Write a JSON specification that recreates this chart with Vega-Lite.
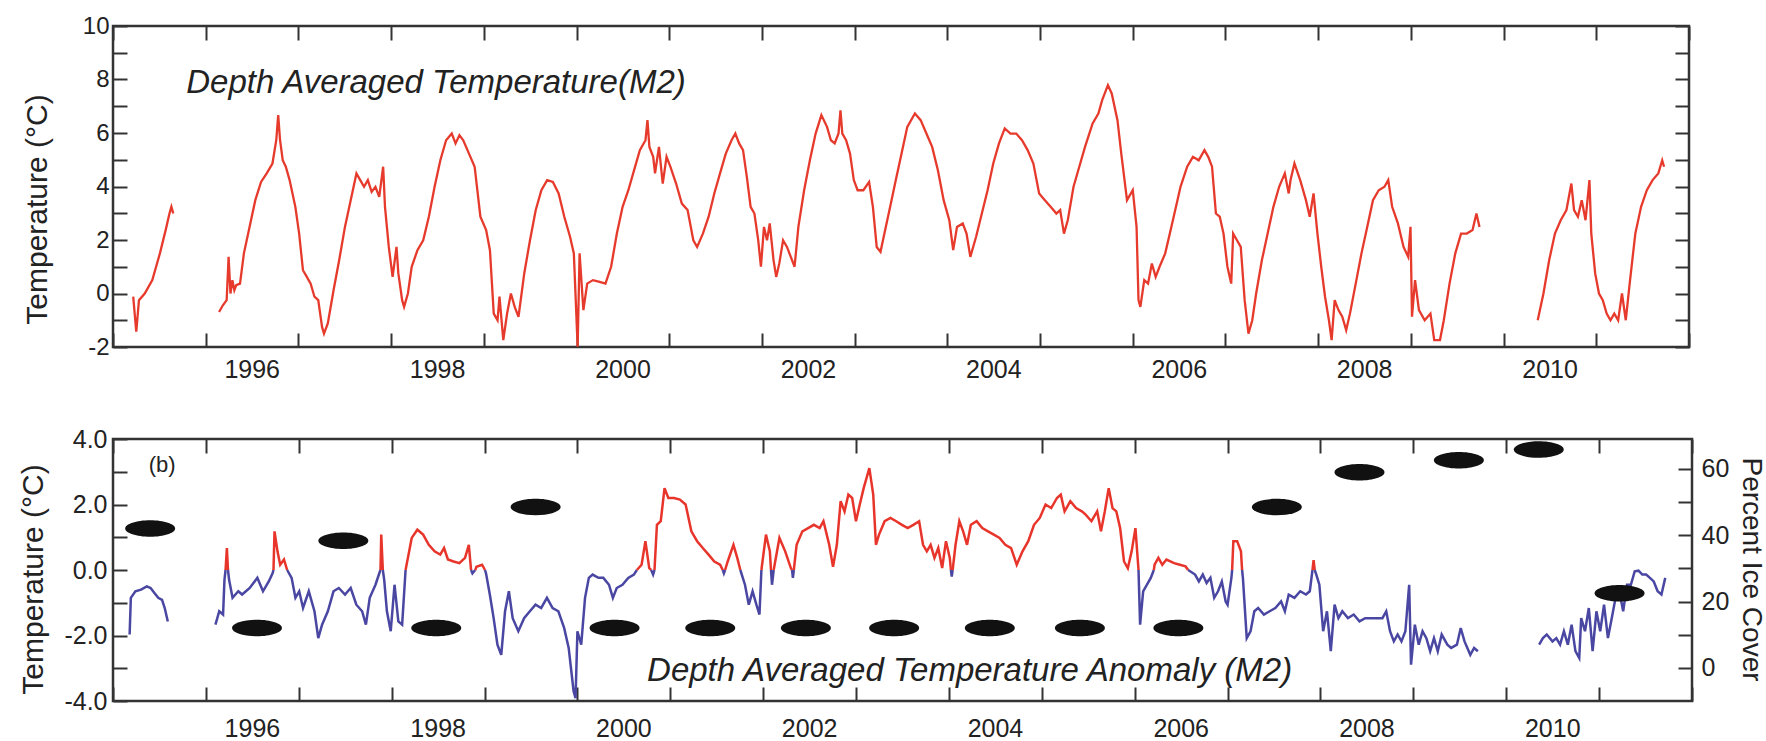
{
"$schema": "https://vega.github.io/schema/vega-lite/v6.json",
"background": "#ffffff",
"padding": {"left": 16, "top": 12, "right": 0, "bottom": 0},
"spacing": 41,
"config": {
  "font": "Liberation Sans",
  "view": {"stroke": "#333333", "strokeWidth": 2.5},
  "axis": {"grid": false, "domain": false, "tickColor": "#333333", "tickWidth": 2, "labelColor": "#222222", "titleColor": "#222222", "labelFont": "Liberation Sans", "titleFont": "Liberation Sans", "titleFontWeight": "normal", "labelFlush": false, "labelOverlap": false}
},
"datasets": {
"top": [
{"t":1995.218,"v":-0.12,"s":"a"},{"t":1995.251,"v":-1.43,"s":"a"},{"t":1995.280,"v":-0.25,"s":"a"},{"t":1995.342,"v":0.0,"s":"a"},{"t":1995.424,"v":0.50,"s":"a"},{"t":1995.506,"v":1.50,"s":"a"},{"t":1995.568,"v":2.37,"s":"a"},{"t":1995.609,"v":2.99,"s":"a"},{"t":1995.630,"v":3.24,"s":"a"},{"t":1995.650,"v":2.99,"s":"a"},
{"t":1996.144,"v":-0.69,"s":"b"},{"t":1996.185,"v":-0.44,"s":"b"},{"t":1996.226,"v":-0.25,"s":"b"},{"t":1996.247,"v":1.37,"s":"b"},{"t":1996.267,"v":0.0,"s":"b"},{"t":1996.288,"v":0.50,"s":"b"},{"t":1996.309,"v":0.12,"s":"b"},{"t":1996.329,"v":0.31,"s":"b"},{"t":1996.370,"v":0.37,"s":"b"},{"t":1996.412,"v":1.50,"s":"b"},{"t":1996.473,"v":2.49,"s":"b"},{"t":1996.535,"v":3.49,"s":"b"},{"t":1996.597,"v":4.17,"s":"b"},{"t":1996.658,"v":4.49,"s":"b"},{"t":1996.720,"v":4.86,"s":"b"},{"t":1996.761,"v":5.73,"s":"b"},{"t":1996.782,"v":6.67,"s":"b"},{"t":1996.802,"v":5.73,"s":"b"},{"t":1996.831,"v":4.98,"s":"b"},{"t":1996.864,"v":4.74,"s":"b"},{"t":1996.905,"v":4.24,"s":"b"},{"t":1996.967,"v":3.24,"s":"b"},{"t":1997.008,"v":2.24,"s":"b"},{"t":1997.049,"v":0.87,"s":"b"},{"t":1997.091,"v":0.62,"s":"b"},{"t":1997.132,"v":0.37,"s":"b"},{"t":1997.173,"v":-0.12,"s":"b"},{"t":1997.214,"v":-0.25,"s":"b"},{"t":1997.255,"v":-1.25,"s":"b"},{"t":1997.276,"v":-1.50,"s":"b"},{"t":1997.317,"v":-1.12,"s":"b"},{"t":1997.379,"v":0.12,"s":"b"},{"t":1997.440,"v":1.25,"s":"b"},{"t":1997.502,"v":2.49,"s":"b"},{"t":1997.564,"v":3.49,"s":"b"},{"t":1997.626,"v":4.49,"s":"b"},{"t":1997.667,"v":4.24,"s":"b"},{"t":1997.708,"v":3.99,"s":"b"},{"t":1997.749,"v":4.24,"s":"b"},{"t":1997.790,"v":3.80,"s":"b"},{"t":1997.831,"v":3.99,"s":"b"},{"t":1997.872,"v":3.61,"s":"b"},{"t":1997.914,"v":4.74,"s":"b"},{"t":1997.934,"v":3.24,"s":"b"},{"t":1997.975,"v":1.74,"s":"b"},{"t":1998.016,"v":0.62,"s":"b"},{"t":1998.058,"v":1.74,"s":"b"},{"t":1998.078,"v":0.75,"s":"b"},{"t":1998.119,"v":-0.25,"s":"b"},{"t":1998.140,"v":-0.50,"s":"b"},{"t":1998.181,"v":0.0,"s":"b"},{"t":1998.222,"v":1.0,"s":"b"},{"t":1998.284,"v":1.62,"s":"b"},{"t":1998.346,"v":1.99,"s":"b"},{"t":1998.407,"v":2.87,"s":"b"},{"t":1998.469,"v":3.99,"s":"b"},{"t":1998.531,"v":4.98,"s":"b"},{"t":1998.593,"v":5.73,"s":"b"},{"t":1998.654,"v":5.98,"s":"b"},{"t":1998.695,"v":5.61,"s":"b"},{"t":1998.737,"v":5.92,"s":"b"},{"t":1998.778,"v":5.73,"s":"b"},{"t":1998.840,"v":5.23,"s":"b"},{"t":1998.901,"v":4.74,"s":"b"},{"t":1998.963,"v":2.87,"s":"b"},{"t":1999.025,"v":2.37,"s":"b"},{"t":1999.066,"v":1.62,"s":"b"},{"t":1999.107,"v":-0.75,"s":"b"},{"t":1999.148,"v":-1.00,"s":"b"},{"t":1999.169,"v":-0.12,"s":"b"},{"t":1999.210,"v":-1.74,"s":"b"},{"t":1999.251,"v":-0.75,"s":"b"},{"t":1999.292,"v":0.0,"s":"b"},{"t":1999.333,"v":-0.50,"s":"b"},{"t":1999.374,"v":-0.87,"s":"b"},{"t":1999.436,"v":0.75,"s":"b"},{"t":1999.498,"v":1.99,"s":"b"},{"t":1999.560,"v":3.12,"s":"b"},{"t":1999.621,"v":3.86,"s":"b"},{"t":1999.683,"v":4.24,"s":"b"},{"t":1999.745,"v":4.17,"s":"b"},{"t":1999.807,"v":3.74,"s":"b"},{"t":1999.868,"v":2.87,"s":"b"},{"t":1999.930,"v":2.12,"s":"b"},{"t":1999.971,"v":1.50,"s":"b"},{"t":2000.012,"v":-1.99,"s":"b"},{"t":2000.033,"v":1.50,"s":"b"},{"t":2000.074,"v":-0.62,"s":"b"},{"t":2000.115,"v":0.37,"s":"b"},{"t":2000.177,"v":0.50,"s":"b"},{"t":2000.239,"v":0.44,"s":"b"},
{"t":2000.312,"v":0.37,"s":"b"},{"t":2000.373,"v":1.0,"s":"b"},{"t":2000.435,"v":2.24,"s":"b"},{"t":2000.497,"v":3.24,"s":"b"},{"t":2000.559,"v":3.86,"s":"b"},{"t":2000.621,"v":4.61,"s":"b"},{"t":2000.683,"v":5.36,"s":"b"},{"t":2000.744,"v":5.73,"s":"b"},{"t":2000.765,"v":6.48,"s":"b"},{"t":2000.786,"v":5.48,"s":"b"},{"t":2000.827,"v":5.11,"s":"b"},{"t":2000.847,"v":4.49,"s":"b"},{"t":2000.889,"v":5.48,"s":"b"},{"t":2000.930,"v":4.11,"s":"b"},{"t":2000.971,"v":5.11,"s":"b"},{"t":2001.012,"v":4.74,"s":"b"},{"t":2001.074,"v":4.11,"s":"b"},{"t":2001.136,"v":3.36,"s":"b"},{"t":2001.198,"v":3.12,"s":"b"},{"t":2001.260,"v":1.99,"s":"b"},{"t":2001.301,"v":1.74,"s":"b"},{"t":2001.363,"v":2.24,"s":"b"},{"t":2001.425,"v":2.87,"s":"b"},{"t":2001.486,"v":3.74,"s":"b"},{"t":2001.548,"v":4.49,"s":"b"},{"t":2001.610,"v":5.23,"s":"b"},{"t":2001.672,"v":5.73,"s":"b"},{"t":2001.713,"v":5.98,"s":"b"},{"t":2001.754,"v":5.61,"s":"b"},{"t":2001.796,"v":5.36,"s":"b"},{"t":2001.837,"v":4.36,"s":"b"},{"t":2001.878,"v":3.24,"s":"b"},{"t":2001.919,"v":2.99,"s":"b"},{"t":2001.960,"v":1.99,"s":"b"},{"t":2001.989,"v":1.0,"s":"b"},{"t":2002.022,"v":2.49,"s":"b"},{"t":2002.055,"v":1.99,"s":"b"},{"t":2002.084,"v":2.62,"s":"b"},{"t":2002.125,"v":1.25,"s":"b"},{"t":2002.154,"v":0.62,"s":"b"},{"t":2002.187,"v":1.12,"s":"b"},{"t":2002.228,"v":1.99,"s":"b"},{"t":2002.270,"v":1.74,"s":"b"},{"t":2002.311,"v":1.37,"s":"b"},{"t":2002.352,"v":1.0,"s":"b"},{"t":2002.393,"v":2.49,"s":"b"},{"t":2002.455,"v":3.86,"s":"b"},{"t":2002.517,"v":4.98,"s":"b"},{"t":2002.579,"v":5.98,"s":"b"},{"t":2002.641,"v":6.67,"s":"b"},{"t":2002.702,"v":6.23,"s":"b"},{"t":2002.744,"v":5.73,"s":"b"},{"t":2002.785,"v":5.61,"s":"b"},{"t":2002.826,"v":5.98,"s":"b"},{"t":2002.847,"v":6.85,"s":"b"},{"t":2002.867,"v":5.98,"s":"b"},{"t":2002.908,"v":5.73,"s":"b"},{"t":2002.950,"v":5.23,"s":"b"},{"t":2002.991,"v":4.24,"s":"b"},{"t":2003.032,"v":3.86,"s":"b"},{"t":2003.094,"v":3.86,"s":"b"},{"t":2003.156,"v":4.17,"s":"b"},{"t":2003.197,"v":3.24,"s":"b"},{"t":2003.238,"v":1.74,"s":"b"},{"t":2003.279,"v":1.56,"s":"b"},{"t":2003.321,"v":2.24,"s":"b"},{"t":2003.383,"v":3.24,"s":"b"},{"t":2003.444,"v":4.24,"s":"b"},{"t":2003.506,"v":5.23,"s":"b"},{"t":2003.568,"v":6.23,"s":"b"},{"t":2003.650,"v":6.73,"s":"b"},{"t":2003.712,"v":6.48,"s":"b"},{"t":2003.774,"v":5.98,"s":"b"},{"t":2003.836,"v":5.48,"s":"b"},{"t":2003.898,"v":4.61,"s":"b"},{"t":2003.960,"v":3.49,"s":"b"},{"t":2004.021,"v":2.74,"s":"b"},{"t":2004.063,"v":1.62,"s":"b"},{"t":2004.104,"v":2.49,"s":"b"},{"t":2004.166,"v":2.62,"s":"b"},{"t":2004.207,"v":2.24,"s":"b"},{"t":2004.248,"v":1.37,"s":"b"},{"t":2004.310,"v":2.12,"s":"b"},{"t":2004.372,"v":2.99,"s":"b"},{"t":2004.434,"v":3.86,"s":"b"},{"t":2004.495,"v":4.86,"s":"b"},{"t":2004.557,"v":5.61,"s":"b"},{"t":2004.619,"v":6.17,"s":"b"},{"t":2004.681,"v":5.98,"s":"b"},{"t":2004.743,"v":5.98,"s":"b"},{"t":2004.805,"v":5.73,"s":"b"},{"t":2004.866,"v":5.36,"s":"b"},{"t":2004.928,"v":4.86,"s":"b"},{"t":2004.990,"v":3.74,"s":"b"},{"t":2005.052,"v":3.49,"s":"b"},{"t":2005.114,"v":3.24,"s":"b"},{"t":2005.176,"v":2.99,"s":"b"},{"t":2005.217,"v":3.12,"s":"b"},{"t":2005.258,"v":2.24,"s":"b"},{"t":2005.299,"v":2.74,"s":"b"},{"t":2005.361,"v":3.99,"s":"b"},{"t":2005.423,"v":4.74,"s":"b"},{"t":2005.485,"v":5.48,"s":"b"},{"t":2005.567,"v":6.36,"s":"b"},{"t":2005.629,"v":6.73,"s":"b"},{"t":2005.670,"v":7.23,"s":"b"},{"t":2005.732,"v":7.79,"s":"b"},{"t":2005.773,"v":7.48,"s":"b"},{"t":2005.835,"v":6.48,"s":"b"},{"t":2005.876,"v":5.23,"s":"b"},{"t":2005.938,"v":3.49,"s":"b"},{"t":2006.000,"v":3.86,"s":"b"},{"t":2006.041,"v":2.49,"s":"b"},{"t":2006.062,"v":-0.25,"s":"b"},{"t":2006.082,"v":-0.50,"s":"b"},{"t":2006.124,"v":0.50,"s":"b"},{"t":2006.165,"v":0.37,"s":"b"},{"t":2006.206,"v":1.12,"s":"b"},{"t":2006.247,"v":0.62,"s":"b"},{"t":2006.289,"v":1.0,"s":"b"},{"t":2006.350,"v":1.50,"s":"b"},{"t":2006.433,"v":2.74,"s":"b"},{"t":2006.515,"v":3.99,"s":"b"},
{"t":2006.587,"v":4.74,"s":"b"},{"t":2006.649,"v":5.11,"s":"b"},{"t":2006.711,"v":4.98,"s":"b"},{"t":2006.773,"v":5.36,"s":"b"},{"t":2006.814,"v":5.11,"s":"b"},{"t":2006.855,"v":4.74,"s":"b"},{"t":2006.897,"v":2.99,"s":"b"},{"t":2006.938,"v":2.87,"s":"b"},{"t":2006.979,"v":2.24,"s":"b"},{"t":2007.021,"v":1.0,"s":"b"},{"t":2007.062,"v":0.37,"s":"b"},{"t":2007.083,"v":2.24,"s":"b"},{"t":2007.124,"v":1.99,"s":"b"},{"t":2007.165,"v":1.74,"s":"b"},{"t":2007.207,"v":-0.25,"s":"b"},{"t":2007.248,"v":-1.50,"s":"b"},{"t":2007.289,"v":-1.0,"s":"b"},{"t":2007.331,"v":0.0,"s":"b"},{"t":2007.393,"v":1.25,"s":"b"},{"t":2007.455,"v":2.24,"s":"b"},{"t":2007.517,"v":3.24,"s":"b"},{"t":2007.579,"v":3.99,"s":"b"},{"t":2007.640,"v":4.49,"s":"b"},{"t":2007.682,"v":3.74,"s":"b"},{"t":2007.702,"v":4.24,"s":"b"},{"t":2007.744,"v":4.86,"s":"b"},{"t":2007.806,"v":4.24,"s":"b"},{"t":2007.868,"v":3.49,"s":"b"},{"t":2007.909,"v":2.87,"s":"b"},{"t":2007.950,"v":3.74,"s":"b"},{"t":2007.992,"v":2.24,"s":"b"},{"t":2008.033,"v":1.0,"s":"b"},{"t":2008.074,"v":-0.12,"s":"b"},{"t":2008.116,"v":-1.0,"s":"b"},{"t":2008.145,"v":-1.74,"s":"b"},{"t":2008.178,"v":-0.25,"s":"b"},{"t":2008.219,"v":-0.62,"s":"b"},{"t":2008.260,"v":-0.87,"s":"b"},{"t":2008.302,"v":-1.37,"s":"b"},{"t":2008.343,"v":-0.75,"s":"b"},{"t":2008.405,"v":0.37,"s":"b"},{"t":2008.467,"v":1.50,"s":"b"},{"t":2008.529,"v":2.49,"s":"b"},{"t":2008.591,"v":3.49,"s":"b"},{"t":2008.653,"v":3.86,"s":"b"},{"t":2008.715,"v":3.99,"s":"b"},{"t":2008.756,"v":4.24,"s":"b"},{"t":2008.798,"v":3.24,"s":"b"},{"t":2008.860,"v":2.62,"s":"b"},{"t":2008.921,"v":1.74,"s":"b"},{"t":2008.971,"v":1.37,"s":"b"},{"t":2008.996,"v":2.49,"s":"b"},{"t":2009.012,"v":-0.87,"s":"b"},{"t":2009.045,"v":0.50,"s":"b"},{"t":2009.087,"v":-0.62,"s":"b"},{"t":2009.149,"v":-1.0,"s":"b"},{"t":2009.211,"v":-0.75,"s":"b"},{"t":2009.252,"v":-1.74,"s":"b"},{"t":2009.314,"v":-1.74,"s":"b"},{"t":2009.355,"v":-1.0,"s":"b"},{"t":2009.417,"v":0.37,"s":"b"},{"t":2009.479,"v":1.50,"s":"b"},{"t":2009.541,"v":2.24,"s":"b"},{"t":2009.603,"v":2.24,"s":"b"},{"t":2009.665,"v":2.37,"s":"b"},{"t":2009.707,"v":2.99,"s":"b"},{"t":2009.740,"v":2.49,"s":"b"},
{"t":2010.368,"v":-1.0,"s":"c"},{"t":2010.430,"v":0.0,"s":"c"},{"t":2010.492,"v":1.25,"s":"c"},{"t":2010.554,"v":2.24,"s":"c"},{"t":2010.616,"v":2.74,"s":"c"},{"t":2010.678,"v":3.12,"s":"c"},{"t":2010.731,"v":4.11,"s":"c"},{"t":2010.760,"v":3.12,"s":"c"},{"t":2010.802,"v":2.87,"s":"c"},{"t":2010.843,"v":3.49,"s":"c"},{"t":2010.884,"v":2.74,"s":"c"},{"t":2010.926,"v":4.24,"s":"c"},{"t":2010.946,"v":2.24,"s":"c"},{"t":2010.988,"v":0.75,"s":"c"},{"t":2011.029,"v":0.0,"s":"c"},{"t":2011.070,"v":-0.25,"s":"c"},{"t":2011.112,"v":-0.75,"s":"c"},{"t":2011.153,"v":-1.0,"s":"c"},{"t":2011.194,"v":-0.75,"s":"c"},{"t":2011.236,"v":-1.0,"s":"c"},{"t":2011.277,"v":0.0,"s":"c"},{"t":2011.318,"v":-1.0,"s":"c"},{"t":2011.360,"v":0.37,"s":"c"},{"t":2011.421,"v":2.24,"s":"c"},{"t":2011.483,"v":3.24,"s":"c"},{"t":2011.545,"v":3.86,"s":"c"},{"t":2011.607,"v":4.24,"s":"c"},{"t":2011.669,"v":4.49,"s":"c"},{"t":2011.711,"v":4.98,"s":"c"},{"t":2011.731,"v":4.74,"s":"c"}
],
"anom": [
{"t":1995.179,"v":-1.97,"s":"n1","c":"n"},{"t":1995.192,"v":-0.85,"s":"n1","c":"n"},{"t":1995.241,"v":-0.65,"s":"n1","c":"n"},{"t":1995.302,"v":-0.60,"s":"n1","c":"n"},{"t":1995.364,"v":-0.50,"s":"n1","c":"n"},{"t":1995.405,"v":-0.55,"s":"n1","c":"n"},{"t":1995.446,"v":-0.70,"s":"n1","c":"n"},{"t":1995.487,"v":-0.85,"s":"n1","c":"n"},{"t":1995.528,"v":-0.91,"s":"n1","c":"n"},{"t":1995.557,"v":-1.16,"s":"n1","c":"n"},{"t":1995.590,"v":-1.57,"s":"n1","c":"n"},
{"t":1996.103,"v":-1.67,"s":"n2","c":"n"},{"t":1996.144,"v":-1.26,"s":"n2","c":"n"},{"t":1996.185,"v":-1.36,"s":"n2","c":"n"},{"t":1996.200,"v":-0.30,"s":"n2","c":"n"},{"t":1996.212,"v":0,"s":"n2","c":"n"},
{"t":1996.212,"v":0,"s":"p1","c":"p"},{"t":1996.226,"v":0.67,"s":"p1","c":"p"},{"t":1996.238,"v":0,"s":"p1","c":"p"},
{"t":1996.238,"v":0,"s":"n3","c":"n"},{"t":1996.250,"v":-0.30,"s":"n3","c":"n"},{"t":1996.287,"v":-0.85,"s":"n3","c":"n"},{"t":1996.349,"v":-0.65,"s":"n3","c":"n"},{"t":1996.390,"v":-0.75,"s":"n3","c":"n"},{"t":1996.472,"v":-0.55,"s":"n3","c":"n"},{"t":1996.554,"v":-0.24,"s":"n3","c":"n"},{"t":1996.615,"v":-0.65,"s":"n3","c":"n"},{"t":1996.677,"v":-0.35,"s":"n3","c":"n"},{"t":1996.718,"v":-0.10,"s":"n3","c":"n"},{"t":1996.728,"v":0,"s":"n3","c":"n"},
{"t":1996.728,"v":0,"s":"p2","c":"p"},{"t":1996.739,"v":1.18,"s":"p2","c":"p"},{"t":1996.771,"v":0.57,"s":"p2","c":"p"},{"t":1996.800,"v":0.16,"s":"p2","c":"p"},{"t":1996.841,"v":0.32,"s":"p2","c":"p"},{"t":1996.875,"v":0,"s":"p2","c":"p"},
{"t":1996.875,"v":0,"s":"n4","c":"n"},{"t":1996.923,"v":-0.24,"s":"n4","c":"n"},{"t":1996.964,"v":-0.85,"s":"n4","c":"n"},{"t":1997.005,"v":-0.65,"s":"n4","c":"n"},{"t":1997.046,"v":-1.16,"s":"n4","c":"n"},{"t":1997.108,"v":-0.65,"s":"n4","c":"n"},{"t":1997.169,"v":-1.26,"s":"n4","c":"n"},{"t":1997.210,"v":-2.08,"s":"n4","c":"n"},{"t":1997.251,"v":-1.67,"s":"n4","c":"n"},{"t":1997.313,"v":-1.26,"s":"n4","c":"n"},{"t":1997.374,"v":-0.65,"s":"n4","c":"n"},{"t":1997.431,"v":-0.55,"s":"n4","c":"n"},{"t":1997.498,"v":-0.75,"s":"n4","c":"n"},{"t":1997.559,"v":-0.55,"s":"n4","c":"n"},{"t":1997.620,"v":-1.06,"s":"n4","c":"n"},{"t":1997.682,"v":-1.26,"s":"n4","c":"n"},{"t":1997.723,"v":-1.67,"s":"n4","c":"n"},{"t":1997.764,"v":-0.85,"s":"n4","c":"n"},{"t":1997.826,"v":-0.45,"s":"n4","c":"n"},{"t":1997.867,"v":-0.10,"s":"n4","c":"n"},{"t":1997.880,"v":0,"s":"n4","c":"n"},
{"t":1997.880,"v":0,"s":"p3","c":"p"},{"t":1997.888,"v":1.08,"s":"p3","c":"p"},{"t":1997.905,"v":0,"s":"p3","c":"p"},
{"t":1997.905,"v":0,"s":"n5","c":"n"},{"t":1997.920,"v":-0.30,"s":"n5","c":"n"},{"t":1997.949,"v":-1.26,"s":"n5","c":"n"},{"t":1997.990,"v":-1.87,"s":"n5","c":"n"},{"t":1998.031,"v":-0.45,"s":"n5","c":"n"},{"t":1998.072,"v":-1.57,"s":"n5","c":"n"},{"t":1998.113,"v":-1.67,"s":"n5","c":"n"},{"t":1998.150,"v":0,"s":"n5","c":"n"},
{"t":1998.150,"v":0,"s":"p4","c":"p"},{"t":1998.216,"v":0.98,"s":"p4","c":"p"},{"t":1998.277,"v":1.23,"s":"p4","c":"p"},{"t":1998.339,"v":1.08,"s":"p4","c":"p"},{"t":1998.400,"v":0.77,"s":"p4","c":"p"},{"t":1998.462,"v":0.57,"s":"p4","c":"p"},{"t":1998.523,"v":0.47,"s":"p4","c":"p"},{"t":1998.564,"v":0.67,"s":"p4","c":"p"},{"t":1998.606,"v":0.32,"s":"p4","c":"p"},{"t":1998.667,"v":0.26,"s":"p4","c":"p"},{"t":1998.729,"v":0.21,"s":"p4","c":"p"},{"t":1998.790,"v":0.37,"s":"p4","c":"p"},{"t":1998.831,"v":0.77,"s":"p4","c":"p"},{"t":1998.855,"v":0,"s":"p4","c":"p"},
{"t":1998.855,"v":0,"s":"n6","c":"n"},{"t":1998.870,"v":-0.10,"s":"n6","c":"n"},{"t":1998.900,"v":0,"s":"n6","c":"n"},
{"t":1998.900,"v":0,"s":"p5","c":"p"},{"t":1998.913,"v":0.10,"s":"p5","c":"p"},{"t":1998.974,"v":0.16,"s":"p5","c":"p"},{"t":1999.005,"v":0,"s":"p5","c":"p"},
{"t":1999.005,"v":0,"s":"n7","c":"n"},{"t":1999.016,"v":-0.10,"s":"n7","c":"n"},{"t":1999.057,"v":-0.75,"s":"n7","c":"n"},{"t":1999.098,"v":-1.47,"s":"n7","c":"n"},{"t":1999.139,"v":-2.28,"s":"n7","c":"n"},{"t":1999.180,"v":-2.59,"s":"n7","c":"n"},{"t":1999.221,"v":-1.26,"s":"n7","c":"n"},{"t":1999.262,"v":-0.65,"s":"n7","c":"n"},{"t":1999.303,"v":-1.47,"s":"n7","c":"n"},{"t":1999.364,"v":-1.87,"s":"n7","c":"n"},{"t":1999.426,"v":-1.47,"s":"n7","c":"n"},{"t":1999.488,"v":-1.26,"s":"n7","c":"n"},{"t":1999.549,"v":-1.06,"s":"n7","c":"n"},{"t":1999.610,"v":-1.16,"s":"n7","c":"n"},{"t":1999.672,"v":-0.85,"s":"n7","c":"n"},{"t":1999.733,"v":-1.16,"s":"n7","c":"n"},{"t":1999.795,"v":-1.26,"s":"n7","c":"n"},{"t":1999.857,"v":-1.77,"s":"n7","c":"n"},{"t":1999.906,"v":-2.38,"s":"n7","c":"n"},{"t":1999.959,"v":-3.70,"s":"n7","c":"n"},{"t":1999.980,"v":-3.91,"s":"n7","c":"n"},{"t":2000.000,"v":-1.87,"s":"n7","c":"n"},{"t":2000.041,"v":-2.28,"s":"n7","c":"n"},{"t":2000.082,"v":-0.85,"s":"n7","c":"n"},{"t":2000.123,"v":-0.24,"s":"n7","c":"n"},{"t":2000.164,"v":-0.14,"s":"n7","c":"n"},{"t":2000.226,"v":-0.24,"s":"n7","c":"n"},{"t":2000.279,"v":-0.24,"s":"n7","c":"n"},{"t":2000.340,"v":-0.45,"s":"n7","c":"n"},{"t":2000.382,"v":-0.85,"s":"n7","c":"n"},{"t":2000.423,"v":-0.55,"s":"n7","c":"n"},{"t":2000.485,"v":-0.45,"s":"n7","c":"n"},{"t":2000.547,"v":-0.24,"s":"n7","c":"n"},{"t":2000.608,"v":-0.14,"s":"n7","c":"n"},{"t":2000.640,"v":0,"s":"n7","c":"n"},
{"t":2000.640,"v":0,"s":"p6","c":"p"},{"t":2000.691,"v":0.16,"s":"p6","c":"p"},{"t":2000.732,"v":0.88,"s":"p6","c":"p"},{"t":2000.773,"v":0.06,"s":"p6","c":"p"},{"t":2000.794,"v":0,"s":"p6","c":"p"},
{"t":2000.794,"v":0,"s":"n8","c":"n"},{"t":2000.815,"v":-0.14,"s":"n8","c":"n"},{"t":2000.830,"v":0,"s":"n8","c":"n"},
{"t":2000.830,"v":0,"s":"p7","c":"p"},{"t":2000.856,"v":1.38,"s":"p7","c":"p"},{"t":2000.897,"v":1.49,"s":"p7","c":"p"},{"t":2000.938,"v":2.50,"s":"p7","c":"p"},{"t":2000.979,"v":2.20,"s":"p7","c":"p"},{"t":2001.041,"v":2.20,"s":"p7","c":"p"},{"t":2001.103,"v":2.15,"s":"p7","c":"p"},{"t":2001.165,"v":2.00,"s":"p7","c":"p"},{"t":2001.227,"v":1.18,"s":"p7","c":"p"},{"t":2001.289,"v":0.88,"s":"p7","c":"p"},{"t":2001.350,"v":0.67,"s":"p7","c":"p"},{"t":2001.412,"v":0.47,"s":"p7","c":"p"},{"t":2001.474,"v":0.26,"s":"p7","c":"p"},{"t":2001.536,"v":0.16,"s":"p7","c":"p"},{"t":2001.565,"v":0,"s":"p7","c":"p"},
{"t":2001.565,"v":0,"s":"n9","c":"n"},{"t":2001.577,"v":-0.10,"s":"n9","c":"n"},{"t":2001.590,"v":0,"s":"n9","c":"n"},
{"t":2001.590,"v":0,"s":"p8","c":"p"},{"t":2001.618,"v":0.26,"s":"p8","c":"p"},{"t":2001.680,"v":0.77,"s":"p8","c":"p"},{"t":2001.721,"v":0.37,"s":"p8","c":"p"},{"t":2001.754,"v":0,"s":"p8","c":"p"},
{"t":2001.754,"v":0,"s":"n10","c":"n"},{"t":2001.804,"v":-0.45,"s":"n10","c":"n"},{"t":2001.845,"v":-1.06,"s":"n10","c":"n"},{"t":2001.886,"v":-0.65,"s":"n10","c":"n"},{"t":2001.927,"v":-1.06,"s":"n10","c":"n"},{"t":2001.960,"v":-1.36,"s":"n10","c":"n"},{"t":2001.981,"v":0,"s":"n10","c":"n"},
{"t":2001.981,"v":0,"s":"p9","c":"p"},{"t":2002.030,"v":1.08,"s":"p9","c":"p"},{"t":2002.072,"v":0.57,"s":"p9","c":"p"},{"t":2002.084,"v":0,"s":"p9","c":"p"},
{"t":2002.084,"v":0,"s":"n11","c":"n"},{"t":2002.095,"v":-0.45,"s":"n11","c":"n"},{"t":2002.113,"v":0,"s":"n11","c":"n"},
{"t":2002.113,"v":0,"s":"p10","c":"p"},{"t":2002.175,"v":0.98,"s":"p10","c":"p"},{"t":2002.237,"v":0.57,"s":"p10","c":"p"},{"t":2002.298,"v":0.06,"s":"p10","c":"p"},{"t":2002.311,"v":0,"s":"p10","c":"p"},
{"t":2002.311,"v":0,"s":"n12","c":"n"},{"t":2002.320,"v":-0.24,"s":"n12","c":"n"},{"t":2002.330,"v":0,"s":"n12","c":"n"},
{"t":2002.330,"v":0,"s":"p11","c":"p"},{"t":2002.360,"v":0.77,"s":"p11","c":"p"},{"t":2002.422,"v":1.18,"s":"p11","c":"p"},{"t":2002.484,"v":1.28,"s":"p11","c":"p"},{"t":2002.546,"v":1.38,"s":"p11","c":"p"},{"t":2002.608,"v":1.28,"s":"p11","c":"p"},{"t":2002.649,"v":1.49,"s":"p11","c":"p"},{"t":2002.711,"v":0.77,"s":"p11","c":"p"},{"t":2002.752,"v":0.10,"s":"p11","c":"p"},{"t":2002.793,"v":0.77,"s":"p11","c":"p"},{"t":2002.834,"v":2.10,"s":"p11","c":"p"},{"t":2002.876,"v":1.79,"s":"p11","c":"p"},{"t":2002.917,"v":2.30,"s":"p11","c":"p"},{"t":2002.958,"v":2.20,"s":"p11","c":"p"},{"t":2002.999,"v":1.49,"s":"p11","c":"p"},{"t":2003.040,"v":2.00,"s":"p11","c":"p"},{"t":2003.082,"v":2.50,"s":"p11","c":"p"},{"t":2003.143,"v":3.11,"s":"p11","c":"p"},{"t":2003.185,"v":2.30,"s":"p11","c":"p"},{"t":2003.214,"v":0.77,"s":"p11","c":"p"},{"t":2003.247,"v":1.08,"s":"p11","c":"p"},{"t":2003.308,"v":1.49,"s":"p11","c":"p"},{"t":2003.370,"v":1.59,"s":"p11","c":"p"},{"t":2003.432,"v":1.49,"s":"p11","c":"p"},{"t":2003.494,"v":1.38,"s":"p11","c":"p"},{"t":2003.556,"v":1.28,"s":"p11","c":"p"},{"t":2003.617,"v":1.38,"s":"p11","c":"p"},{"t":2003.679,"v":1.49,"s":"p11","c":"p"},{"t":2003.721,"v":0.77,"s":"p11","c":"p"},{"t":2003.762,"v":0.57,"s":"p11","c":"p"},{"t":2003.803,"v":0.77,"s":"p11","c":"p"},{"t":2003.844,"v":0.37,"s":"p11","c":"p"},{"t":2003.885,"v":0.67,"s":"p11","c":"p"},{"t":2003.927,"v":0.06,"s":"p11","c":"p"},{"t":2003.968,"v":0.88,"s":"p11","c":"p"},{"t":2004.009,"v":0.37,"s":"p11","c":"p"},{"t":2004.021,"v":0,"s":"p11","c":"p"},
{"t":2004.021,"v":0,"s":"n13","c":"n"},{"t":2004.030,"v":-0.20,"s":"n13","c":"n"},{"t":2004.040,"v":0,"s":"n13","c":"n"},
{"t":2004.040,"v":0,"s":"p12","c":"p"},{"t":2004.071,"v":0.77,"s":"p12","c":"p"},{"t":2004.112,"v":1.49,"s":"p12","c":"p"},{"t":2004.153,"v":1.18,"s":"p12","c":"p"},{"t":2004.195,"v":0.77,"s":"p12","c":"p"},{"t":2004.236,"v":1.38,"s":"p12","c":"p"},{"t":2004.298,"v":1.49,"s":"p12","c":"p"},{"t":2004.359,"v":1.28,"s":"p12","c":"p"},{"t":2004.421,"v":1.18,"s":"p12","c":"p"},{"t":2004.483,"v":1.08,"s":"p12","c":"p"},{"t":2004.545,"v":0.98,"s":"p12","c":"p"},{"t":2004.607,"v":0.77,"s":"p12","c":"p"},{"t":2004.669,"v":0.67,"s":"p12","c":"p"},{"t":2004.730,"v":0.16,"s":"p12","c":"p"},{"t":2004.792,"v":0.57,"s":"p12","c":"p"},{"t":2004.854,"v":0.88,"s":"p12","c":"p"},{"t":2004.916,"v":1.38,"s":"p12","c":"p"},{"t":2004.978,"v":1.59,"s":"p12","c":"p"},{"t":2005.040,"v":2.00,"s":"p12","c":"p"},{"t":2005.101,"v":1.89,"s":"p12","c":"p"},{"t":2005.163,"v":2.20,"s":"p12","c":"p"},{"t":2005.204,"v":2.30,"s":"p12","c":"p"},{"t":2005.245,"v":1.79,"s":"p12","c":"p"},{"t":2005.307,"v":2.10,"s":"p12","c":"p"},{"t":2005.369,"v":1.89,"s":"p12","c":"p"},{"t":2005.431,"v":1.79,"s":"p12","c":"p"},{"t":2005.472,"v":1.69,"s":"p12","c":"p"},{"t":2005.534,"v":1.49,"s":"p12","c":"p"},{"t":2005.596,"v":1.79,"s":"p12","c":"p"},{"t":2005.637,"v":1.18,"s":"p12","c":"p"},{"t":2005.678,"v":1.79,"s":"p12","c":"p"},{"t":2005.720,"v":2.50,"s":"p12","c":"p"},{"t":2005.761,"v":1.89,"s":"p12","c":"p"},{"t":2005.802,"v":1.79,"s":"p12","c":"p"},{"t":2005.843,"v":1.28,"s":"p12","c":"p"},{"t":2005.885,"v":0.26,"s":"p12","c":"p"},{"t":2005.926,"v":0.05,"s":"p12","c":"p"},{"t":2005.967,"v":0.57,"s":"p12","c":"p"},{"t":2006.008,"v":1.28,"s":"p12","c":"p"},{"t":2006.041,"v":0,"s":"p12","c":"p"},
{"t":2006.041,"v":0,"s":"n14","c":"n"},{"t":2006.058,"v":-1.67,"s":"n14","c":"n"},{"t":2006.091,"v":-0.65,"s":"n14","c":"n"},{"t":2006.132,"v":-0.45,"s":"n14","c":"n"},{"t":2006.173,"v":-0.24,"s":"n14","c":"n"},{"t":2006.206,"v":0,"s":"n14","c":"n"},
{"t":2006.206,"v":0,"s":"p13","c":"p"},{"t":2006.214,"v":0.16,"s":"p13","c":"p"},{"t":2006.255,"v":0.37,"s":"p13","c":"p"},{"t":2006.297,"v":0.16,"s":"p13","c":"p"},{"t":2006.342,"v":0.32,"s":"p13","c":"p"},{"t":2006.424,"v":0.21,"s":"p13","c":"p"},{"t":2006.486,"v":0.16,"s":"p13","c":"p"},{"t":2006.547,"v":0.11,"s":"p13","c":"p"},{"t":2006.576,"v":0,"s":"p13","c":"p"},
{"t":2006.576,"v":0,"s":"n15","c":"n"},{"t":2006.650,"v":-0.14,"s":"n15","c":"n"},{"t":2006.691,"v":-0.35,"s":"n15","c":"n"},{"t":2006.733,"v":-0.14,"s":"n15","c":"n"},{"t":2006.774,"v":-0.40,"s":"n15","c":"n"},{"t":2006.815,"v":-0.24,"s":"n15","c":"n"},{"t":2006.856,"v":-0.85,"s":"n15","c":"n"},{"t":2006.897,"v":-0.65,"s":"n15","c":"n"},{"t":2006.938,"v":-0.35,"s":"n15","c":"n"},{"t":2006.979,"v":-0.96,"s":"n15","c":"n"},{"t":2007.000,"v":-1.06,"s":"n15","c":"n"},{"t":2007.041,"v":-0.24,"s":"n15","c":"n"},{"t":2007.049,"v":0,"s":"n15","c":"n"},
{"t":2007.049,"v":0,"s":"p14","c":"p"},{"t":2007.062,"v":0.88,"s":"p14","c":"p"},{"t":2007.103,"v":0.88,"s":"p14","c":"p"},{"t":2007.144,"v":0.57,"s":"p14","c":"p"},{"t":2007.156,"v":0,"s":"p14","c":"p"},
{"t":2007.156,"v":0,"s":"n16","c":"n"},{"t":2007.165,"v":-0.24,"s":"n16","c":"n"},{"t":2007.206,"v":-2.08,"s":"n16","c":"n"},{"t":2007.247,"v":-1.87,"s":"n16","c":"n"},{"t":2007.288,"v":-1.26,"s":"n16","c":"n"},{"t":2007.329,"v":-1.16,"s":"n16","c":"n"},{"t":2007.391,"v":-1.36,"s":"n16","c":"n"},{"t":2007.453,"v":-1.26,"s":"n16","c":"n"},{"t":2007.514,"v":-1.16,"s":"n16","c":"n"},{"t":2007.576,"v":-0.96,"s":"n16","c":"n"},{"t":2007.617,"v":-1.26,"s":"n16","c":"n"},{"t":2007.658,"v":-0.75,"s":"n16","c":"n"},{"t":2007.720,"v":-0.85,"s":"n16","c":"n"},{"t":2007.782,"v":-0.65,"s":"n16","c":"n"},{"t":2007.844,"v":-0.75,"s":"n16","c":"n"},{"t":2007.885,"v":-0.65,"s":"n16","c":"n"},{"t":2007.914,"v":0,"s":"n16","c":"n"},
{"t":2007.914,"v":0,"s":"p15","c":"p"},{"t":2007.926,"v":0.30,"s":"p15","c":"p"},{"t":2007.938,"v":0,"s":"p15","c":"p"},
{"t":2007.938,"v":0,"s":"n17","c":"n"},{"t":2007.955,"v":-0.14,"s":"n17","c":"n"},{"t":2007.988,"v":-0.45,"s":"n17","c":"n"},{"t":2008.029,"v":-1.87,"s":"n17","c":"n"},{"t":2008.070,"v":-1.26,"s":"n17","c":"n"},{"t":2008.111,"v":-2.48,"s":"n17","c":"n"},{"t":2008.152,"v":-1.06,"s":"n17","c":"n"},{"t":2008.193,"v":-1.47,"s":"n17","c":"n"},{"t":2008.235,"v":-1.26,"s":"n17","c":"n"},{"t":2008.296,"v":-1.47,"s":"n17","c":"n"},{"t":2008.358,"v":-1.36,"s":"n17","c":"n"},{"t":2008.420,"v":-1.57,"s":"n17","c":"n"},{"t":2008.481,"v":-1.47,"s":"n17","c":"n"},{"t":2008.543,"v":-1.47,"s":"n17","c":"n"},{"t":2008.605,"v":-1.47,"s":"n17","c":"n"},{"t":2008.667,"v":-1.47,"s":"n17","c":"n"},{"t":2008.708,"v":-1.26,"s":"n17","c":"n"},{"t":2008.749,"v":-1.87,"s":"n17","c":"n"},{"t":2008.790,"v":-2.18,"s":"n17","c":"n"},{"t":2008.831,"v":-1.97,"s":"n17","c":"n"},{"t":2008.872,"v":-2.18,"s":"n17","c":"n"},{"t":2008.914,"v":-1.87,"s":"n17","c":"n"},{"t":2008.955,"v":-0.45,"s":"n17","c":"n"},{"t":2008.975,"v":-2.89,"s":"n17","c":"n"},{"t":2009.016,"v":-1.67,"s":"n17","c":"n"},{"t":2009.058,"v":-2.28,"s":"n17","c":"n"},{"t":2009.099,"v":-1.87,"s":"n17","c":"n"},{"t":2009.140,"v":-2.08,"s":"n17","c":"n"},{"t":2009.181,"v":-2.48,"s":"n17","c":"n"},{"t":2009.222,"v":-2.08,"s":"n17","c":"n"},{"t":2009.263,"v":-2.48,"s":"n17","c":"n"},{"t":2009.305,"v":-1.97,"s":"n17","c":"n"},{"t":2009.366,"v":-2.28,"s":"n17","c":"n"},{"t":2009.407,"v":-2.38,"s":"n17","c":"n"},{"t":2009.469,"v":-2.28,"s":"n17","c":"n"},{"t":2009.510,"v":-1.77,"s":"n17","c":"n"},{"t":2009.551,"v":-2.18,"s":"n17","c":"n"},{"t":2009.613,"v":-2.59,"s":"n17","c":"n"},{"t":2009.654,"v":-2.38,"s":"n17","c":"n"},{"t":2009.695,"v":-2.48,"s":"n17","c":"n"},
{"t":2010.354,"v":-2.28,"s":"n18","c":"n"},{"t":2010.395,"v":-2.08,"s":"n18","c":"n"},{"t":2010.436,"v":-1.97,"s":"n18","c":"n"},{"t":2010.498,"v":-2.18,"s":"n18","c":"n"},{"t":2010.539,"v":-2.08,"s":"n18","c":"n"},{"t":2010.580,"v":-2.28,"s":"n18","c":"n"},{"t":2010.621,"v":-1.87,"s":"n18","c":"n"},{"t":2010.663,"v":-2.28,"s":"n18","c":"n"},{"t":2010.704,"v":-1.67,"s":"n18","c":"n"},{"t":2010.745,"v":-2.48,"s":"n18","c":"n"},{"t":2010.786,"v":-2.69,"s":"n18","c":"n"},{"t":2010.807,"v":-1.47,"s":"n18","c":"n"},{"t":2010.848,"v":-1.87,"s":"n18","c":"n"},{"t":2010.889,"v":-1.16,"s":"n18","c":"n"},{"t":2010.930,"v":-2.48,"s":"n18","c":"n"},{"t":2010.971,"v":-1.26,"s":"n18","c":"n"},{"t":2011.012,"v":-1.87,"s":"n18","c":"n"},{"t":2011.053,"v":-1.06,"s":"n18","c":"n"},{"t":2011.095,"v":-2.08,"s":"n18","c":"n"},{"t":2011.136,"v":-1.47,"s":"n18","c":"n"},{"t":2011.177,"v":-0.85,"s":"n18","c":"n"},{"t":2011.218,"v":-0.65,"s":"n18","c":"n"},{"t":2011.259,"v":-1.26,"s":"n18","c":"n"},{"t":2011.300,"v":-0.45,"s":"n18","c":"n"},{"t":2011.342,"v":-0.45,"s":"n18","c":"n"},{"t":2011.383,"v":-0.04,"s":"n18","c":"n"},{"t":2011.424,"v":-0.02,"s":"n18","c":"n"},{"t":2011.465,"v":-0.14,"s":"n18","c":"n"},{"t":2011.506,"v":-0.14,"s":"n18","c":"n"},{"t":2011.547,"v":-0.24,"s":"n18","c":"n"},{"t":2011.588,"v":-0.35,"s":"n18","c":"n"},{"t":2011.630,"v":-0.65,"s":"n18","c":"n"},{"t":2011.671,"v":-0.75,"s":"n18","c":"n"},{"t":2011.712,"v":-0.24,"s":"n18","c":"n"}
],
"ice": [
{"t":1995.40,"i":42.0},{"t":1996.55,"i":12.0},{"t":1997.48,"i":38.3},{"t":1998.48,"i":12.0},{"t":1999.55,"i":48.5},{"t":2000.40,"i":12.0},{"t":2001.43,"i":12.0},{"t":2002.46,"i":12.0},{"t":2003.41,"i":12.0},{"t":2004.44,"i":12.0},{"t":2005.41,"i":12.0},{"t":2006.47,"i":12.0},{"t":2007.53,"i":48.5},{"t":2008.42,"i":59.0},{"t":2009.49,"i":62.6},{"t":2010.35,"i":65.8},{"t":2011.22,"i":22.5}
]
},
"vconcat": [
{
  "width": 1576, "height": 321,
  "layer": [
    {
      "data": {"name": "top"},
      "mark": {"type": "line", "color": "#e63a2c", "strokeWidth": 2.3},
      "encoding": {
        "x": {"field": "t", "type": "quantitative", "scale": {"domain": [1995, 2012], "nice": false, "zero": false},
              "axis": {"orient": "bottom", "values": [1995,1996,1997,1998,1999,2000,2001,2002,2003,2004,2005,2006,2007,2008,2009,2010,2011,2012], "labelExpr": "(datum.value % 2 == 0 && datum.value >= 1996 && datum.value <= 2010) ? '' + datum.value : ''", "labelOffset": 46, "tickSize": -14, "labelPadding": 24, "labelFontSize": 25, "title": null}},
        "y": {"field": "v", "type": "quantitative", "scale": {"domain": [-2, 10], "nice": false, "zero": false},
              "axis": {"orient": "left", "values": [-2,-1,0,1,2,3,4,5,6,7,8,9,10], "labelExpr": "datum.value % 2 == 0 ? '' + datum.value : ''", "tickSize": -14, "labelPadding": 18, "labelFontSize": 24, "title": "Temperature (°C)", "titleFontSize": 30, "titleX": -76, "titleY": 183, "titleBaseline": "middle"}},
        "detail": {"field": "s"}
      }
    },
    {
      "data": {"values": [{"t": 1995.79, "v": 7.86, "label": "Depth Averaged Temperature(M2)"}]},
      "mark": {"type": "text", "align": "left", "baseline": "middle", "fontSize": 33, "fontStyle": "italic", "color": "#222222"},
      "encoding": {
        "x": {"field": "t", "type": "quantitative", "scale": {"domain": [1995, 2012], "nice": false, "zero": false},
              "axis": {"orient": "top", "values": [1995,1996,1997,1998,1999,2000,2001,2002,2003,2004,2005,2006,2007,2008,2009,2010,2011,2012], "labels": false, "tickSize": -14, "title": null}},
        "y": {"field": "v", "type": "quantitative", "scale": {"domain": [-2, 10], "nice": false, "zero": false},
              "axis": {"orient": "right", "values": [-2,-1,0,1,2,3,4,5,6,7,8,9,10], "labels": false, "tickSize": -14, "title": null}},
        "text": {"field": "label"}
      }
    }
  ],
  "resolve": {"axis": {"x": "independent", "y": "independent"}}
},
{
  "width": 1579, "height": 262,
  "layer": [
    {
      "data": {"name": "anom"},
      "mark": {"type": "line", "strokeWidth": 2.5},
      "encoding": {
        "x": {"field": "t", "type": "quantitative", "scale": {"domain": [1995, 2012], "nice": false, "zero": false},
              "axis": {"orient": "bottom", "values": [1995,1996,1997,1998,1999,2000,2001,2002,2003,2004,2005,2006,2007,2008,2009,2010,2011,2012], "labelExpr": "(datum.value % 2 == 0 && datum.value >= 1996 && datum.value <= 2010) ? '' + datum.value : ''", "labelOffset": 46, "tickSize": -14, "labelPadding": 29, "labelFontSize": 25, "title": null}},
        "y": {"field": "v", "type": "quantitative", "scale": {"domain": [-4, 4], "nice": false, "zero": false},
              "axis": {"orient": "left", "values": [-4,-3,-2,-1,0,1,2,3,4], "labelExpr": "datum.value % 2 == 0 ? (datum.value < 0 ? '-' : '') + format(abs(datum.value), '.1f') : ''", "tickSize": -14, "labelPadding": 20, "labelFontSize": 25, "title": "Temperature (°C)", "titleFontSize": 30, "titleX": -80, "titleY": 140, "titleBaseline": "middle"}},
        "color": {"field": "c", "type": "nominal", "scale": {"domain": ["p", "n"], "range": ["#e8352b", "#4a47a3"]}, "legend": null},
        "detail": {"field": "s"}
      }
    },
    {
      "data": {"name": "ice"},
      "mark": {"type": "point", "shape": "M-1,0A1,0.33,0,1,1,1,0A1,0.33,0,1,1,-1,0Z", "filled": true, "color": "#111111", "opacity": 1, "size": 2500},
      "encoding": {
        "x": {"field": "t", "type": "quantitative", "scale": {"domain": [1995, 2012], "nice": false, "zero": false},
              "axis": {"orient": "top", "values": [1995,1996,1997,1998,1999,2000,2001,2002,2003,2004,2005,2006,2007,2008,2009,2010,2011,2012], "labels": false, "tickSize": -14, "title": null}},
        "y": {"field": "i", "type": "quantitative", "scale": {"domain": [-10, 69], "nice": false, "zero": false},
              "axis": {"orient": "right", "values": [0,10,20,30,40,50,60], "labelExpr": "datum.value % 20 == 0 ? '' + datum.value : ''", "tickSize": -14, "labelPadding": 23, "labelFontSize": 25, "title": "Percent Ice Cover", "titleFontSize": 28, "titleX": 58, "titleY": 130, "titleBaseline": "middle"}}
      }
    },
    {
      "data": {"values": [{"t": 2000.75, "v": -3.09, "label": "Depth Averaged Temperature Anomaly (M2)"}]},
      "mark": {"type": "text", "align": "left", "baseline": "middle", "fontSize": 33, "fontStyle": "italic", "color": "#222222"},
      "encoding": {
        "x": {"field": "t", "type": "quantitative", "scale": {"domain": [1995, 2012], "nice": false, "zero": false}, "axis": null},
        "y": {"field": "v", "type": "quantitative", "scale": {"domain": [-4, 4], "nice": false, "zero": false}, "axis": null},
        "text": {"field": "label"}
      }
    },
    {
      "data": {"values": [{"t": 1995.53, "v": 3.22, "label": "(b)"}]},
      "mark": {"type": "text", "align": "center", "baseline": "middle", "fontSize": 22, "color": "#222222"},
      "encoding": {
        "x": {"field": "t", "type": "quantitative", "scale": {"domain": [1995, 2012], "nice": false, "zero": false}, "axis": null},
        "y": {"field": "v", "type": "quantitative", "scale": {"domain": [-4, 4], "nice": false, "zero": false}, "axis": null},
        "text": {"field": "label"}
      }
    }
  ],
  "resolve": {"scale": {"y": "independent"}, "axis": {"x": "independent", "y": "independent"}}
}
]
}
